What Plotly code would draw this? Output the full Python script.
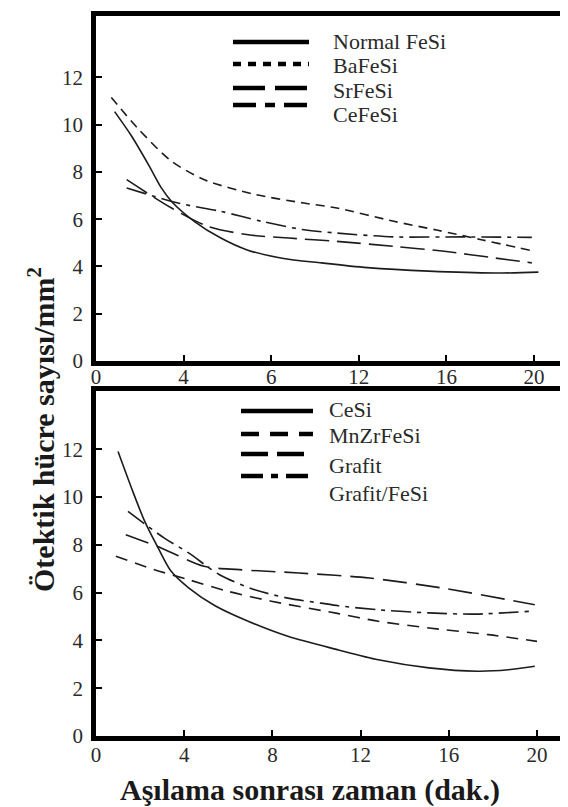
import plotly.graph_objects as go

# ---------------- data ----------------
# top panel
normal_fesi_t = [0.85, 1.6, 2.4, 3.0, 3.45, 4.5, 5.7, 6.9, 8.5, 10.3, 12.4, 15.2, 18.2, 20.2]
normal_fesi_v = [10.55, 9.55, 8.3, 7.3, 6.75, 5.9, 5.2, 4.7, 4.35, 4.15, 3.95, 3.8, 3.72, 3.76]

bafesi_t = [0.7, 1.9, 3.45, 5.0, 7.25, 9.5, 11.0, 13.6, 15.6, 17.6, 19.9]
bafesi_v = [11.15, 9.85, 8.45, 7.65, 7.05, 6.68, 6.47, 5.91, 5.53, 5.13, 4.67]

srfesi_t = [1.4, 3.45, 5.1, 6.95, 8.8, 11.0, 13.6, 15.9, 18.2, 19.9]
srfesi_v = [7.67, 6.47, 5.7, 5.34, 5.2, 5.06, 4.85, 4.64, 4.36, 4.15]

cefesi_t = [1.4, 3.75, 5.7, 7.55, 9.5, 11.0, 13.6, 16.7, 19.9]
cefesi_v = [7.32, 6.68, 6.33, 5.91, 5.55, 5.41, 5.25, 5.25, 5.23]

# bottom panel
cesi_t = [1.0, 1.6, 2.2, 2.8, 3.4, 4.2, 5.4, 6.9, 8.7, 11.0, 12.8, 15.1, 17.3, 18.7, 19.9]
cesi_v = [11.9, 10.4, 9.0, 7.9, 6.9, 6.2, 5.45, 4.8, 4.17, 3.6, 3.19, 2.85, 2.71, 2.77, 2.92]

mnzrfesi_t = [0.9, 2.65, 4.2, 6.0, 7.95, 11.0, 12.8, 15.1, 17.8, 20.0]
mnzrfesi_v = [7.52, 6.96, 6.54, 6.05, 5.64, 5.12, 4.8, 4.52, 4.24, 3.96]

grafit_t = [1.35, 3.0, 4.9, 6.5, 9.2, 12.4, 15.7, 18.7, 19.9]
grafit_v = [8.42, 7.85, 7.1, 6.96, 6.82, 6.61, 6.19, 5.7, 5.49]

grafit_fesi_t = [1.45, 3.1, 4.2, 5.6, 7.2, 8.7, 10.2, 11.0, 12.8, 15.1, 17.2, 19.7]
grafit_fesi_v = [9.4, 8.28, 7.66, 6.75, 6.12, 5.77, 5.56, 5.45, 5.28, 5.15, 5.1, 5.22]

top_names = ["Normal FeSi", "BaFeSi", "SrFeSi", "CeFeSi"]
bottom_names = ["CeSi", "MnZrFeSi", "Grafit", "Grafit/FeSi"]

x_tickvals = [0, 4, 8, 12, 16, 20]
top_x_ticktext = ["0", "4", "6", "12", "16", "20"]
bottom_x_ticktext = ["0", "4", "8", "12", "16", "20"]
y_tickvals = [0, 2, 4, 6, 8, 10, 12]
y_ticktext = ["0", "2", "4", "6", "8", "10", "12"]

x_title = "Aşılama sonrası zaman (dak.)"
y_title = "Ötektik hücre sayısı/mm<sup>2</sup>"

# ---------------- styling ----------------
W, H = 568, 807
ML, MR, MT, MB = 88, 5, 8, 79
PW, PH = W - ML - MR, H - MT - MB


def px(xp):
    return (xp - ML) / PW


def py(yp):
    return (H - MB - yp) / PH


curve_dash = {
    "Normal FeSi": "solid",
    "BaFeSi": "9px,6px",
    "SrFeSi": "24px,8px",
    "CeFeSi": "20px,6px,4px,6px",
    "CeSi": "solid",
    "MnZrFeSi": "12px,8px",
    "Grafit": "24px,9px",
    "Grafit/FeSi": "20px,6px,4px,6px",
}
legend_dash = {
    "Normal FeSi": "solid",
    "BaFeSi": "8px,7px",
    "SrFeSi": "32px,10px",
    "CeFeSi": "23px,9px,10px,9px",
    "CeSi": "solid",
    "MnZrFeSi": "18px,11px",
    "Grafit": "27px,9px",
    "Grafit/FeSi": "22px,8px,7px,8px",
}

LINE_COLOR = "#1c1c1c"
SERIF = "Liberation Serif"

fig = go.Figure()

top_series = [(normal_fesi_t, normal_fesi_v), (bafesi_t, bafesi_v),
              (srfesi_t, srfesi_v), (cefesi_t, cefesi_v)]
bottom_series = [(cesi_t, cesi_v), (mnzrfesi_t, mnzrfesi_v),
                 (grafit_t, grafit_v), (grafit_fesi_t, grafit_fesi_v)]

for name, (t, v) in zip(top_names, top_series):
    fig.add_trace(go.Scatter(x=t, y=v, mode="lines", name=name,
                             line=dict(color=LINE_COLOR, width=1.6, dash=curve_dash[name],
                                       shape="spline", smoothing=0.8),
                             xaxis="x", yaxis="y", showlegend=False))
for name, (t, v) in zip(bottom_names, bottom_series):
    fig.add_trace(go.Scatter(x=t, y=v, mode="lines", name=name,
                             line=dict(color=LINE_COLOR, width=1.6, dash=curve_dash[name],
                                       shape="spline", smoothing=0.8),
                             xaxis="x2", yaxis="y2", showlegend=False))

axis_common = dict(showline=True, mirror=True, linewidth=4.5, linecolor="black",
                   ticks="inside", ticklen=6, tickwidth=1.5, tickcolor="black",
                   showgrid=False, zeroline=False, automargin=False,
                   tickfont=dict(family=SERIF, size=21, color="#2a2a2a"))

fig.update_layout(
    width=W, height=H,
    margin=dict(l=ML, r=MR, t=MT, b=MB, autoexpand=False),
    paper_bgcolor="white", plot_bgcolor="white",
    showlegend=False,
    font=dict(family=SERIF),
    xaxis=dict(domain=[0, 1], anchor="y", range=[0, PW / 21.9],
               tickmode="array", tickvals=x_tickvals, ticktext=top_x_ticktext,
               ticklabelstandoff=-7, **axis_common),
    yaxis=dict(domain=[py(353), 1], anchor="x", range=[0, (353 - MT) / 23.64],
               tickmode="array", tickvals=y_tickvals, ticktext=y_ticktext,
               ticklabelstandoff=4, **axis_common),
    xaxis2=dict(domain=[0, 1], anchor="y2", range=[0, PW / 22.05],
                tickmode="array", tickvals=x_tickvals, ticktext=bottom_x_ticktext,
                ticklabelstandoff=-4, **axis_common),
    yaxis2=dict(domain=[0, py(383)], anchor="x2", range=[0, (728 - 383) / 23.9],
                tickmode="array", tickvals=y_tickvals, ticktext=y_ticktext,
                ticklabelstandoff=4, **axis_common),
)

# ---------------- hand-placed legends ----------------
shapes = []
annotations = []
top_leg_line_y = [34, 56, 80, 97]
top_leg_text_y = [34, 58, 83, 107]
for name, ly, ty in zip(top_names, top_leg_line_y, top_leg_text_y):
    shapes.append(dict(type="line", xref="paper", yref="paper",
                       x0=px(225), x1=px(301), y0=py(ly), y1=py(ly),
                       line=dict(color="black", width=4.5, dash=legend_dash[name])))
    annotations.append(dict(text=name, xref="paper", yref="paper",
                            x=px(323), y=py(ty), xanchor="left", yanchor="middle",
                            showarrow=False,
                            font=dict(family=SERIF, size=22, color="#2a2a2a")))

bot_leg_line_y = [403, 426, 446, 468]
bot_leg_text_y = [401, 428, 457, 485]
for name, ly, ty in zip(bottom_names, bot_leg_line_y, bot_leg_text_y):
    shapes.append(dict(type="line", xref="paper", yref="paper",
                       x0=px(233), x1=px(305), y0=py(ly), y1=py(ly),
                       line=dict(color="black", width=4.5, dash=legend_dash[name])))
    annotations.append(dict(text=name, xref="paper", yref="paper",
                            x=px(319), y=py(ty), xanchor="left", yanchor="middle",
                            showarrow=False,
                            font=dict(family=SERIF, size=22, color="#2a2a2a")))

# axis titles
annotations.append(dict(text=x_title, xref="paper", yref="paper",
                        x=px(302), y=py(782), xanchor="center", yanchor="middle",
                        showarrow=False,
                        font=dict(family=SERIF, size=30, color="#1a1a1a", weight="bold")))
annotations.append(dict(text=y_title, xref="paper", yref="paper",
                        x=px(33), y=py(422), xanchor="center", yanchor="middle",
                        textangle=-90, showarrow=False,
                        font=dict(family=SERIF, size=30, color="#1a1a1a", weight="bold")))

fig.update_layout(shapes=shapes, annotations=annotations)

fig.write_html("out.html")
